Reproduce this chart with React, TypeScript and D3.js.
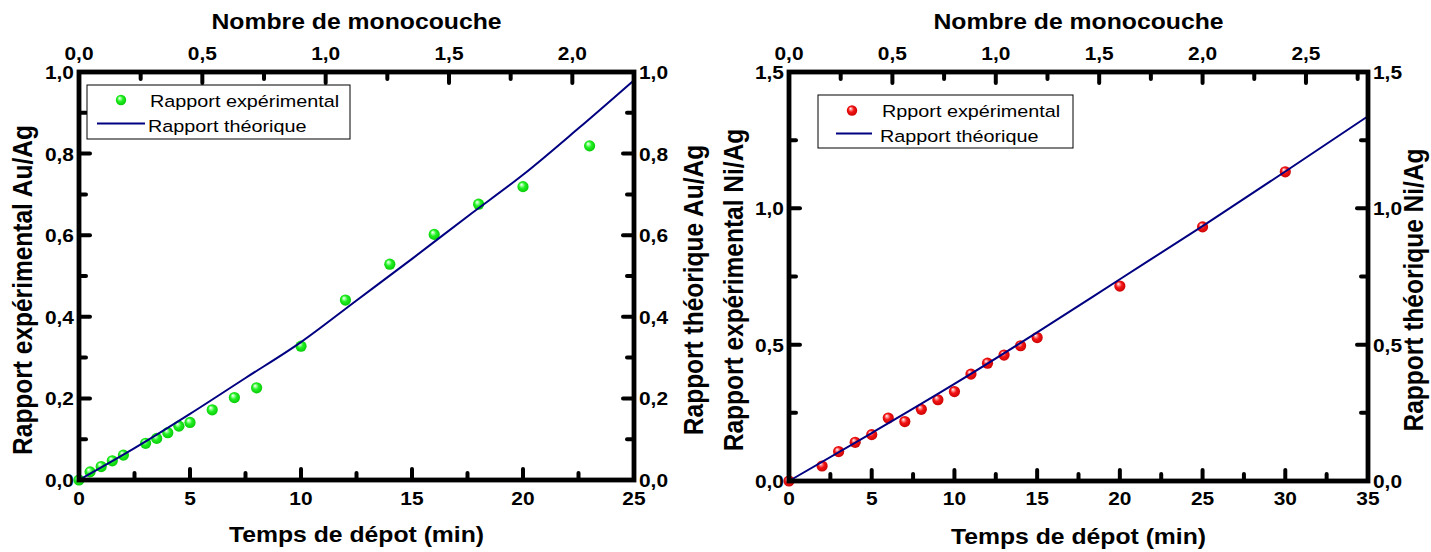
import React from 'react';
import * as d3 from 'd3';

// ---------- Data ----------
const auTime = [0, 0.5, 1, 1.5, 2, 3, 3.5, 4, 4.5, 5, 6, 7, 8, 10, 12, 14, 16, 18, 20, 23];
const auExp = [0, 0.02, 0.033, 0.047, 0.061, 0.09, 0.102, 0.116, 0.132, 0.141, 0.172, 0.202, 0.226, 0.328, 0.441, 0.529, 0.602, 0.676, 0.719, 0.819];
const auTheoTime = [0, 2.5, 5, 7.5, 10, 12.5, 15, 17.5, 20, 22.5, 25];
const auTheo = [0, 0.078, 0.162, 0.25, 0.338, 0.44, 0.542, 0.646, 0.748, 0.862, 0.98];

const niTime = [0, 2, 3, 4, 5, 6, 7, 8, 9, 10, 11, 12, 13, 14, 15, 20, 25, 30];
const niExp = [0, 0.055, 0.108, 0.142, 0.17, 0.231, 0.218, 0.263, 0.298, 0.328, 0.392, 0.432, 0.462, 0.496, 0.526, 0.715, 0.932, 1.134];
const niTheoTime = [0, 5, 10, 15, 20, 25, 30, 35];
const niTheo = [0, 0.176, 0.356, 0.545, 0.74, 0.935, 1.135, 1.338];

const auXTicks = [0, 5, 10, 15, 20, 25];
const auTopTicks = [0, 0.5, 1, 1.5, 2];
const auYTicks = [0, 0.2, 0.4, 0.6, 0.8, 1.0];
const niXTicks = [0, 5, 10, 15, 20, 25, 30, 35];
const niTopTicks = [0, 0.5, 1, 1.5, 2, 2.5];
const niYTicks = [0, 0.5, 1.0, 1.5];

const FONT = "'Liberation Sans', Arial, Helvetica, sans-serif";
const NAVY = '#000080';

const fmt1 = (v: number) => d3.format('.1f')(v).replace('.', ',');

function T(props: any) {
  const { x, y, size, weight = 'bold', sx = 1.1, anchor = 'middle', rot = false, children } = props;
  return (
    <text
      transform={`translate(${x},${y}) scale(${sx},1)${rot ? ' rotate(-90)' : ''}`}
      fontFamily={FONT}
      fontSize={size}
      fontWeight={weight}
      textAnchor={anchor}
      fill="#000"
    >
      {children}
    </text>
  );
}

function Panel(props: any) {
  const {
    x0, x1, y0, y1, xDomain, topDomain, yDomain,
    xTicks, topTicks, yTicks, time, exp, theoTime, theo,
    grad, yTitleL, yTitleR, legendExp, legend,
    titleLx, titleRx, titleCy, bottomTitleY,
  } = props;
  const x = d3.scaleLinear().domain(xDomain).range([x0, x1]);
  const xt = d3.scaleLinear().domain(topDomain).range([x0, x1]);
  const y = d3.scaleLinear().domain(yDomain).range([y1, y0]);

  const mid = (arr: number[], max: number) => {
    const step = arr[1] - arr[0];
    const out: number[] = [];
    arr.forEach((v) => { if (v + step / 2 <= max + 1e-9) out.push(v + step / 2); });
    return out;
  };
  const xMinor = mid(xTicks, xDomain[1]);
  const topMinor = mid(topTicks, topDomain[1]);
  const yMinor = mid(yTicks, yDomain[1]);

  const MAJ = 11, MIN = 7;
  const tickProps = { stroke: '#000', strokeWidth: 4, strokeLinecap: 'round' as const };

  const line = d3.line<number>()
    .x((_, i) => x(theoTime[i]))
    .y((d) => y(d))
    .curve(d3.curveMonotoneX);

  const cx = (x0 + x1) / 2;

  return (
    <g>
      {time.map((t: number, i: number) => (
        <circle key={'p' + i} cx={x(t)} cy={y(exp[i])} r={5.6} fill={`url(#${grad})`} />
      ))}
      <path d={line(theo) || ''} fill="none" stroke={NAVY} strokeWidth={2} />

      <rect x={x0} y={y0} width={x1 - x0} height={y1 - y0} fill="none" stroke="#000" strokeWidth={4.8} />

      {xTicks.map((v: number) => <line key={'bM' + v} x1={x(v)} x2={x(v)} y1={y1} y2={y1 - MAJ} {...tickProps} />)}
      {xMinor.map((v: number) => <line key={'bm' + v} x1={x(v)} x2={x(v)} y1={y1} y2={y1 - MIN} {...tickProps} />)}
      {topTicks.map((v: number) => <line key={'tM' + v} x1={xt(v)} x2={xt(v)} y1={y0} y2={y0 + MAJ} {...tickProps} />)}
      {topMinor.map((v: number) => <line key={'tm' + v} x1={xt(v)} x2={xt(v)} y1={y0} y2={y0 + MIN} {...tickProps} />)}
      {yTicks.map((v: number) => <line key={'lM' + v} x1={x0} x2={x0 + MAJ} y1={y(v)} y2={y(v)} {...tickProps} />)}
      {yMinor.map((v: number) => <line key={'lm' + v} x1={x0} x2={x0 + MIN} y1={y(v)} y2={y(v)} {...tickProps} />)}
      {yTicks.map((v: number) => <line key={'rM' + v} x1={x1} x2={x1 - MAJ} y1={y(v)} y2={y(v)} {...tickProps} />)}
      {yMinor.map((v: number) => <line key={'rm' + v} x1={x1} x2={x1 - MIN} y1={y(v)} y2={y(v)} {...tickProps} />)}

      {xTicks.map((v: number) => <T key={'bl' + v} x={x(v)} y={505} size={19}>{String(v)}</T>)}
      {topTicks.map((v: number) => <T key={'tl' + v} x={xt(v)} y={60} size={19}>{fmt1(v)}</T>)}
      {yTicks.map((v: number) => <T key={'ll' + v} x={x0 - 5} y={y(v) + 7} size={19} anchor="end">{fmt1(v)}</T>)}
      {yTicks.map((v: number) => <T key={'rl' + v} x={x1 + 5} y={y(v) + 7} size={19} anchor="start">{fmt1(v)}</T>)}

      <T x={cx} y={29} size={22.5}>Nombre de monocouche</T>
      <T x={cx} y={bottomTitleY} size={22.5}>Temps de dépot (min)</T>
      <T x={titleLx} y={titleCy} size={24.5} rot>{yTitleL}</T>
      <T x={titleRx} y={titleCy} size={24.5} rot>{yTitleR}</T>

      <rect x={legend.bx} y={legend.by} width={legend.bw} height={legend.bh} fill="#fff" stroke="#000" strokeWidth={1} />
      <circle cx={legend.mx} cy={legend.my} r={5.2} fill={`url(#${grad})`} />
      <T x={legend.tx1} y={legend.ty1} size={16.5} weight="normal" sx={1.2} anchor="start">{legendExp}</T>
      <line x1={legend.lx1} x2={legend.lx2} y1={legend.ly} y2={legend.ly} stroke={NAVY} strokeWidth={2} />
      <T x={legend.tx2} y={legend.ty2} size={16.5} weight="normal" sx={1.2} anchor="start">Rapport théorique</T>
    </g>
  );
}

export default function App() {
  return (
    <svg width={1431} height={552} style={{ position: 'absolute', left: 0, top: 0, background: '#fff' }}>
      <defs>
        <radialGradient id="gGreen" cx="0.5" cy="0.5" r="0.6" fx="0.35" fy="0.3">
          <stop offset="0%" stopColor="#ffffff" />
          <stop offset="18%" stopColor="#a8ffa8" />
          <stop offset="45%" stopColor="#22f022" />
          <stop offset="100%" stopColor="#00c000" />
        </radialGradient>
        <radialGradient id="gRed" cx="0.5" cy="0.5" r="0.6" fx="0.35" fy="0.3">
          <stop offset="0%" stopColor="#ffffff" />
          <stop offset="18%" stopColor="#ff9a9a" />
          <stop offset="45%" stopColor="#f41414" />
          <stop offset="100%" stopColor="#c00000" />
        </radialGradient>
      </defs>
      <rect x={0} y={0} width={1431} height={552} fill="#fff" />
      <Panel
        x0={79} x1={634} y0={72} y1={480}
        xDomain={[0, 25]} topDomain={[0, 2.25]} yDomain={[0, 1.0]}
        xTicks={auXTicks} topTicks={auTopTicks} yTicks={auYTicks}
        time={auTime} exp={auExp} theoTime={auTheoTime} theo={auTheo}
        grad="gGreen"
        yTitleL="Rapport expérimental Au/Ag" yTitleR="Rapport théorique Au/Ag"
        legendExp="Rapport expérimental"
        titleLx={32} titleRx={703} titleCy={290} bottomTitleY={542}
        legend={{ bx: 87, by: 85, bw: 263, bh: 54, mx: 121, my: 100, tx1: 150, ty1: 107, lx1: 97, lx2: 145, ly: 123.5, tx2: 148, ty2: 132 }}
      />
      <Panel
        x0={789} x1={1368} y0={72} y1={481}
        xDomain={[0, 35]} topDomain={[0, 2.8]} yDomain={[0, 1.5]}
        xTicks={niXTicks} topTicks={niTopTicks} yTicks={niYTicks}
        time={niTime} exp={niExp} theoTime={niTheoTime} theo={niTheo}
        grad="gRed"
        yTitleL="Rapport expérimental Ni/Ag" yTitleR="Rapport théorique Ni/Ag"
        legendExp="Rpport expérimental"
        titleLx={743} titleRx={1423} titleCy={290} bottomTitleY={544}
        legend={{ bx: 818, by: 95, bw: 255, bh: 53, mx: 852, my: 110.5, tx1: 882, ty1: 117, lx1: 836, lx2: 872, ly: 133.5, tx2: 880, ty2: 141.5 }}
      />
    </svg>
  );
}
